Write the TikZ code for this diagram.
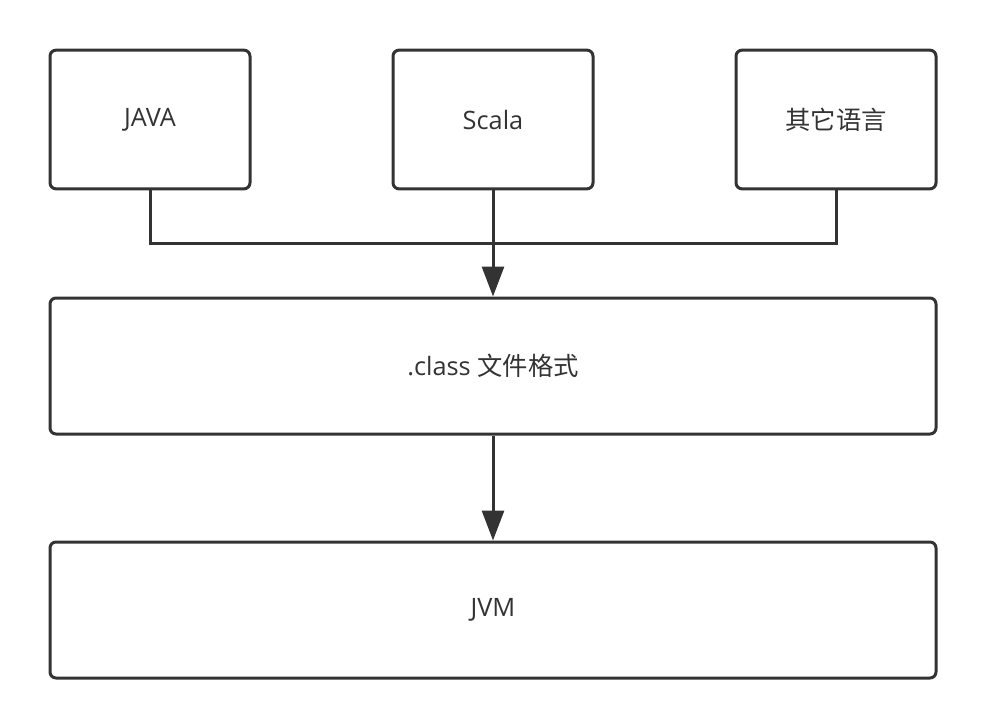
\documentclass[tikz,border=0pt]{standalone}
\usepackage{fontspec}
\setmainfont{Open Sans}
\newfontfamily\cjk{Noto Sans CJK SC}
\usetikzlibrary{arrows.meta}
\definecolor{ink}{HTML}{333333}

\tikzset{every picture/.style={line width=2.25pt}}
\tikzset{langbox/.style={draw=ink,rounded corners=4.5pt,minimum width=150pt,minimum height=104pt,inner sep=0pt,text=ink,font=\fontsize{19}{23}\selectfont}}
\tikzset{widebox/.style={langbox,minimum width=664.5pt,minimum height=102pt}}
\tikzset{flow/.style={draw=ink,-{Triangle[length=22.5pt,width=16.5pt]}}}

\begin{document}
\begin{tikzpicture}[x=0.75pt,y=0.75pt,yscale=-1,xscale=1]
\path (0,0) rectangle (986,728); %set diagram size

%Rounded Rect [id:java]
\node [langbox] (java) at (150,119.5) {JAVA};
%Rounded Rect [id:scala]
\node [langbox] (scala) at (493,119.5) {Scala};
%Rounded Rect [id:other]
\node [langbox] (other) at (836,119.5) {\cjk 其它语言};
%Rounded Rect [id:classfmt]
\node [widebox] (classfmt) at (493,366) {.class {\cjk 文件格式}};
%Rounded Rect [id:jvm]
\node [widebox] (jvm) at (493,610) {JVM};

\coordinate (join) at (493,243);

%Straight Lines
\draw [ink]  (java.south) |- (join) -| (other.south) ;
%Straight Lines
\draw [flow]  (scala.south) -- (classfmt.north) ;
%Straight Lines
\draw [flow]  (classfmt.south) -- (jvm.north) ;

\end{tikzpicture}
\end{document}
